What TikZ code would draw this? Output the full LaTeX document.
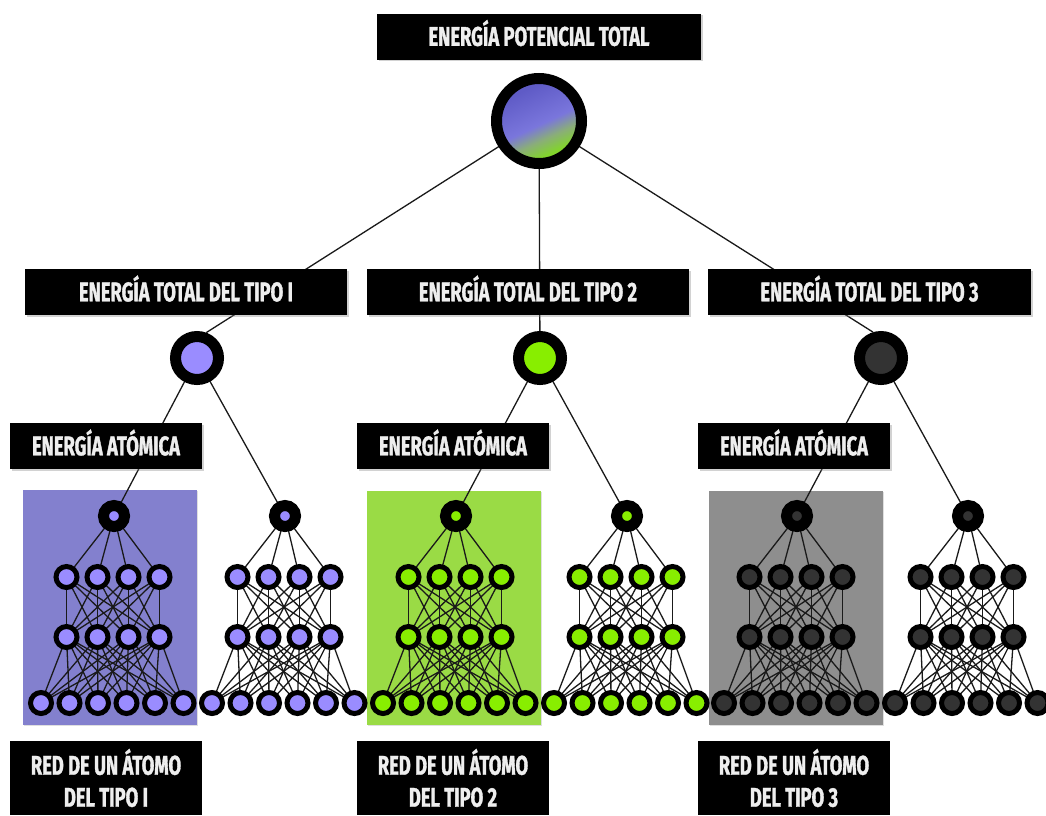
\documentclass[tikz,border=0pt]{standalone}
\usepackage{fontspec}
\setmainfont{Fira Sans}[FakeStretch=0.68, BoldFeatures={FakeBold=1.2}]
\usetikzlibrary{shadows}

\definecolor{labtext}{HTML}{EEEEEE}
\definecolor{wirecol}{HTML}{1A1A1A}
\definecolor{lav}{HTML}{9A8CFF}
\definecolor{lavpanel}{HTML}{8380CE}
\definecolor{lime}{HTML}{88EE00}
\definecolor{limepanel}{HTML}{9ADB45}
\definecolor{dark}{HTML}{333333}
\definecolor{greypanel}{HTML}{8E8E8E}
\definecolor{orbpurple}{HTML}{5F5BC6}
\definecolor{orblight}{HTML}{7A76DC}
\definecolor{orbmix}{HTML}{8AAE78}
\definecolor{orbgreen}{HTML}{82D42C}

% vertical blend for the central orb: green at the bottom, violet above
\pgfdeclareverticalshading{orb}{100bp}{%
  color(0bp)=(orbgreen); color(30bp)=(orbgreen); color(39bp)=(orbmix);
  color(48bp)=(orblight); color(70bp)=(orbpurple); color(100bp)=(orbpurple)}

\pgfdeclarelayer{panels}
\pgfdeclarelayer{wires}
\pgfsetlayers{panels,wires,main}

\newcommand\labfont{\bfseries\fontsize{27}{32}\selectfont}

\tikzset{
  tagbox/.style={fill=black, text=labtext, font=\labfont, inner sep=0pt,
    minimum height=46pt, text height=18.6pt, text depth=0pt,
    drop shadow={shadow xshift=1.5pt, shadow yshift=-1.5pt, opacity=0.35}},
  twoline/.style={fill=black, text=labtext, font=\labfont, inner sep=0pt,
    align=center, minimum width=192pt, minimum height=74pt},
  wire/.style={draw=wirecol, line width=1.3pt},
  ring/.style={circle, draw=black, inner sep=0pt},
  orbnode/.style={ring, line width=11pt, minimum size=85pt, shade, shading=orb,
    shading angle=25},
  hub/.style={ring, line width=11pt, minimum size=43pt},
  nettop/.style={ring, line width=11pt, minimum size=21pt},
  neuron/.style={ring, line width=5pt, minimum size=21pt},
}

% one atomic network: #1 name prefix, #2 x of its output node, #3 fill colour
\newcommand\atomnet[3]{%
  \node[nettop, fill=#3] (#1t) at (#2,516) {};
  \foreach \i/\dx in {1/-47.5,2/-16.5,3/14.5,4/45.5} {
    \node[neuron, fill=#3] (#1a\i) at (#2+\dx,577) {};
    \node[neuron, fill=#3] (#1b\i) at (#2+\dx,637) {};
  }
  \foreach \i/\dx in {1/-73,2/-44.5,3/-16,4/12.5,5/41,6/69.5} {
    \node[neuron, fill=#3] (#1c\i) at (#2+\dx,703) {};
  }
  \begin{pgfonlayer}{wires}
    \foreach \i in {1,...,4} {
      \draw[wire] (#1t.center) -- (#1a\i.center);
      \foreach \j in {1,...,4} {\draw[wire] (#1a\i.center) -- (#1b\j.center);}
      \foreach \j in {1,...,6} {\draw[wire] (#1b\i.center) -- (#1c\j.center);}
    }
  \end{pgfonlayer}
}

\begin{document}
\begin{tikzpicture}[x=1pt, y=-1pt]
  \useasboundingbox (0,0) rectangle (1046,815);

  % white sheet and highlighted panels behind the first network of each type
  \begin{pgfonlayer}{panels}
    \fill[white] (0,0) rectangle (1046,815);
    \fill[lavpanel, drop shadow={shadow xshift=1pt, shadow yshift=-1pt, opacity=0.25}]
      (23,490) rectangle (197,725);
    \fill[limepanel, drop shadow={shadow xshift=1pt, shadow yshift=-1pt, opacity=0.25}]
      (367,491) rectangle (541,725);
    \fill[greypanel, drop shadow={shadow xshift=1pt, shadow yshift=-1pt, opacity=0.25}]
      (709,491) rectangle (883,725);
  \end{pgfonlayer}

  % total energy
  \node[tagbox, minimum width=324pt] (total) at (539,36.5) {ENERGÍA POTENCIAL TOTAL};
  \node[orbnode] (orb) at (539,121) {};

  % energy per atom type
  \node[tagbox, minimum width=322pt] (type1) at (186,292) {ENERGÍA TOTAL DEL TIPO I};
  \node[tagbox, minimum width=322pt] (type2) at (528,292) {ENERGÍA TOTAL DEL TIPO 2};
  \node[tagbox, minimum width=323pt] (type3) at (869.5,292) {ENERGÍA TOTAL DEL TIPO 3};

  \node[hub, fill=lav] (hub1) at (197,358) {};
  \node[hub, fill=lime] (hub2) at (540,358) {};
  \node[hub, fill=dark] (hub3) at (881,358) {};

  % atomic energy labels
  \node[tagbox, minimum width=192pt] (atom1) at (106,446) {ENERGÍA ATÓMICA};
  \node[tagbox, minimum width=192pt] (atom2) at (453,446) {ENERGÍA ATÓMICA};
  \node[tagbox, minimum width=192pt] (atom3) at (794,446) {ENERGÍA ATÓMICA};

  % the six atomic networks
  \atomnet{na}{114}{lav}
  \atomnet{nb}{285}{lav}
  \atomnet{nc}{456}{lime}
  \atomnet{nd}{627}{lime}
  \atomnet{ne}{797}{dark}
  \atomnet{nf}{968}{dark}

  % network captions
  \node[twoline] (cap1) at (106,778) {RED DE UN ÁTOMO\\DEL TIPO I};
  \node[twoline] (cap2) at (453,778) {RED DE UN ÁTOMO\\DEL TIPO 2};
  \node[twoline] (cap3) at (794,778) {RED DE UN ÁTOMO\\DEL TIPO 3};

  % connectors of the energy tree
  \begin{pgfonlayer}{wires}
    \draw[wire] (orb.center) -- (hub1.70);
    \draw[wire] (orb.center) -- (hub2.center);
    \draw[wire] (orb.center) -- (hub3.107);
    \draw[wire] (hub1.center) -- (nat.center);
    \draw[wire] (hub1.center) -- (nbt.center);
    \draw[wire] (hub2.center) -- (nct.center);
    \draw[wire] (hub2.center) -- (ndt.center);
    \draw[wire] (hub3.center) -- (net.center);
    \draw[wire] (hub3.center) -- (nft.center);
  \end{pgfonlayer}
\end{tikzpicture}
\end{document}
